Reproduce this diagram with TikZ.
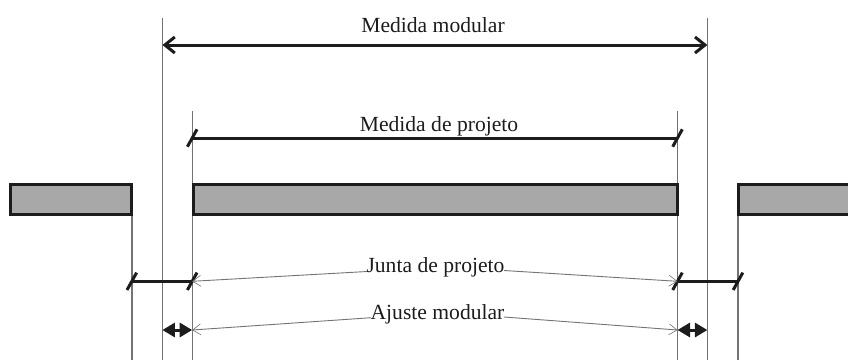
\documentclass[tikz,border=0pt]{standalone}
\usepackage{fontspec}
\setmainfont{Liberation Serif}
\usetikzlibrary{arrows.meta}
\definecolor{barfill}{RGB}{168,168,168}
\definecolor{ink}{RGB}{28,28,28}
\definecolor{guide}{RGB}{115,115,115}
\tikzset{
  guideline/.style={draw=guide,line width=1.1pt},
  wall/.style={draw=ink,fill=barfill,line width=3pt,inner sep=0pt,minimum height=29.7pt},
  bigdim/.style={draw=ink,line width=3pt,{Straight Barb[length=10pt,width=16pt,line width=3pt]}-{Straight Barb[length=10pt,width=16pt,line width=3pt]}},
  dim/.style={draw=ink,line width=3pt},
  tick/.style={draw=ink,line width=3pt},
  tinydim/.style={draw=ink,line width=3pt,{Triangle[length=12.5pt,width=14pt]}-{Triangle[length=12.5pt,width=14pt]}},
  leader/.style={draw=guide,line width=0.9pt,-{Straight Barb[length=8pt,width=11pt,line width=0.6pt]}},
  lbl/.style={font=\fontsize{21.6}{23}\selectfont,text=ink,inner sep=0pt,anchor=base}
}
\begin{document}
\begin{tikzpicture}[x=1pt,y=-1pt]
\useasboundingbox (0,0) rectangle (848,360);
\clip (0,0) rectangle (848,360);
% guides
\coordinate (g1t) at (132,200); \coordinate (g1b) at (132,360);
\coordinate (g2t) at (162.4,18); \coordinate (g2b) at (162.4,360);
\coordinate (g3t) at (192.2,111); \coordinate (g3b) at (192.2,360);
\coordinate (g4t) at (677.5,111); \coordinate (g4b) at (677.5,360);
\coordinate (g5t) at (707.4,18); \coordinate (g5b) at (707.4,360);
\coordinate (g6t) at (738,200); \coordinate (g6b) at (738,360);
\draw[guideline] (g1t) -- (g1b);
\draw[guideline] (g2t) -- (g2b);
\draw[guideline] (g3t) -- (g3b);
\draw[guideline] (g4t) -- (g4b);
\draw[guideline] (g5t) -- (g5b);
\draw[guideline] (g6t) -- (g6b);
% wall bars
\node[wall,minimum width=121pt] (wa) at (71.3,199.7) {};
\node[wall,minimum width=484.6pt] (wb) at (435.5,199.7) {};
\node[wall,minimum width=130pt] (wc) at (803.2,199.7) {};
% labels
\node[lbl] (mm) at (433,32) {Medida modular};
\node[lbl] (mp) at (439,131) {Medida de projeto};
\node[lbl] (jp) at (435.5,272) {Junta de projeto};
\node[lbl] (am) at (437.5,319) {Ajuste modular};
% dims
\coordinate (a1) at (162.4,45); \coordinate (a2) at (707.4,45);
\draw[bigdim] (a1) -- (a2);
\coordinate (p1) at (192.2,138); \coordinate (p2) at (677.5,138);
\draw[dim] (p1) -- (p2);
\foreach \n/\x/\y in {t1/192.2/138,t2/677.5/138,t3/131.8/281.3,t4/192.2/281.3,t5/677.5/281.3,t6/738/281.3}{
  \coordinate (\n) at (\x,\y);
  \draw[tick] ([shift={(-4.8,8.7)}]\n) -- ([shift={(4.8,-8.7)}]\n);
}
\draw[dim] (t3) -- (t4);
\draw[dim] (t5) -- (t6);
\coordinate (s1) at (192.2,330); \coordinate (s2) at (677.5,330);
\coordinate (e1) at (162.4,330); \coordinate (e2) at (707.4,330);
\draw[tinydim] (e1) -- (s1);
\draw[tinydim] (s2) -- (e2);
% leaders
\coordinate (jl) at (367,271.5); \coordinate (jr) at (504,270.5);
\coordinate (al) at (371,317.7); \coordinate (ar) at (504,317);
\draw[leader] (jl) -- (t4);
\draw[leader] (jr) -- (t5);
\draw[leader] (al) -- (s1);
\draw[leader] (ar) -- (s2);
\end{tikzpicture}
\end{document}
